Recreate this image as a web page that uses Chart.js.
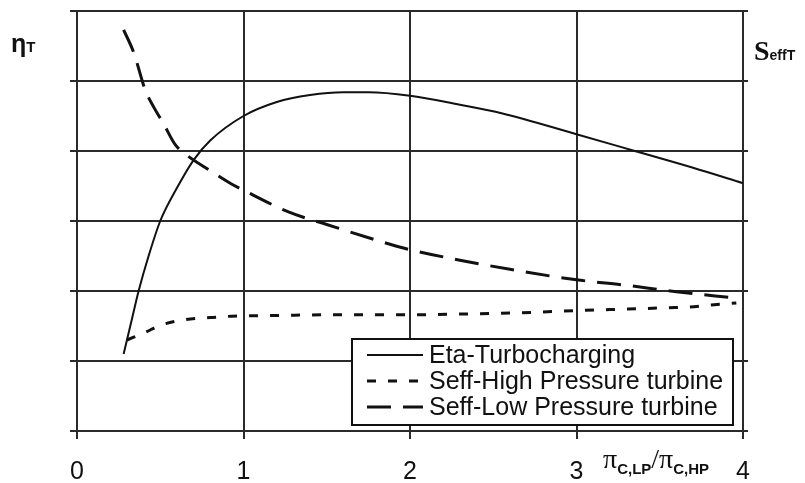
<!DOCTYPE html>
<html>
<head>
<meta charset="utf-8">
<script src="https://cdn.jsdelivr.net/npm/chart.js@4.4.1/dist/chart.umd.min.js"></script>
<style>
  html, body { margin: 0; padding: 0; background: #fff; }
  #wrap { position: relative; width: 805px; height: 483px; font-family: "Liberation Sans", Arial, sans-serif; color: #111; }
  #c { position: absolute; left: 0; top: 0; }
  .lbl { position: absolute; white-space: nowrap; line-height: 1; }
  .sub { font-weight: bold; font-size: 15px; font-family: "Liberation Sans", Arial, sans-serif; position: relative; top: 6px; }
</style>
</head>
<body>
<div id="wrap">
  <canvas id="c" width="805" height="483"></canvas>
  <div class="lbl" style="left:11px; top:31px; font-size:25px; font-weight:bold;">η<span style="font-size:15px;">T</span></div>
  <div class="lbl" style="left:754px; top:37px; font-size:28px; font-weight:bold; font-family:'Liberation Serif', serif;">S<span style="font-size:14px; font-family:'Liberation Sans', Arial, sans-serif;">effT</span></div>
  <div class="lbl" style="left:603px; top:445px; font-size:28px; font-family:'Liberation Serif', serif;">π<span class="sub">C,LP</span>/π<span class="sub">C,HP</span></div>
</div>
<script>
// Pressure ratio split (x) and efficiencies in grid units (y)
const etaX  = [0.28, 0.33, 0.37, 0.43, 0.5, 0.6, 0.7, 0.8, 1.0, 1.2, 1.4, 1.6, 1.75, 2.0, 2.3, 2.55, 3.0, 3.35, 3.7, 4.0];
const etaY  = [1.1, 1.6, 2.0, 2.5, 3.0, 3.47, 3.87, 4.15, 4.5, 4.7, 4.8, 4.84, 4.84, 4.79, 4.66, 4.54, 4.24, 4.0, 3.76, 3.54];

const highX = [0.3, 0.41, 0.5, 0.65, 0.8, 0.93, 1.2, 1.5, 2.0, 2.3, 2.67, 3.0, 3.28, 3.54, 3.68, 3.81, 3.96];
const highY = [1.3, 1.41, 1.51, 1.59, 1.62, 1.64, 1.65, 1.66, 1.66, 1.67, 1.69, 1.72, 1.74, 1.76, 1.77, 1.8, 1.83];

const lowX  = [0.28, 0.34, 0.41, 0.46, 0.52, 0.59, 0.66, 0.8, 0.92, 1.0, 1.27, 1.5, 1.92, 2.0, 2.3, 2.6, 3.0, 3.27, 3.6, 3.95];
const lowY  = [5.73, 5.41, 4.87, 4.63, 4.39, 4.09, 3.94, 3.72, 3.54, 3.44, 3.13, 2.95, 2.64, 2.59, 2.44, 2.31, 2.16, 2.09, 1.99, 1.9];

const seriesNames = ['Eta-Turbocharging', 'Seff-High Pressure turbine', 'Seff-Low Pressure turbine'];
const xTicks = [0, 1, 2, 3, 4];

const pts = (xs, ys) => xs.map((x, i) => ({ x: x, y: ys[i] }));
const INK = '#111';
const GRID = '#2a2a2a';

// Boxed legend inside the plot, bottom right
const boxLegend = {
  id: 'boxLegend',
  afterDatasetsDraw(chart) {
    const ctx = chart.ctx;
    const x0 = 352, y0 = 339, w = 381, h = 86;
    ctx.save();
    ctx.fillStyle = '#fff';
    ctx.fillRect(x0, y0, w, h);
    ctx.strokeStyle = INK;
    ctx.lineWidth = 2;
    ctx.strokeRect(x0, y0, w, h);
    const rows = [355, 381, 407];
    chart.data.datasets.forEach((ds, i) => {
      const y = rows[i];
      ctx.beginPath();
      ctx.setLineDash(ds.borderDash || []);
      ctx.lineWidth = ds.borderWidth;
      ctx.strokeStyle = ds.borderColor;
      ctx.moveTo(367, y);
      ctx.lineTo(423, y);
      ctx.stroke();
      ctx.setLineDash([]);
      ctx.fillStyle = INK;
      ctx.font = '25px "Liberation Sans", Arial, sans-serif';
      ctx.textBaseline = 'middle';
      ctx.textAlign = 'left';
      ctx.fillText(ds.label, 429, y + 1);
    });
    ctx.restore();
  }
};

const lineStyle = { borderColor: INK, cubicInterpolationMode: 'monotone', pointRadius: 0, fill: false };

new Chart(document.getElementById('c'), {
  type: 'line',
  data: {
    datasets: [
      Object.assign({ label: seriesNames[0], data: pts(etaX, etaY), borderWidth: 2 }, lineStyle),
      Object.assign({ label: seriesNames[1], data: pts(highX, highY), borderWidth: 3, borderDash: [9, 12] }, lineStyle),
      Object.assign({ label: seriesNames[2], data: pts(lowX, lowY), borderWidth: 3, borderDash: [24, 12] }, lineStyle)
    ]
  },
  options: {
    responsive: false,
    animation: false,
    layout: { padding: { top: 11, left: 0, right: 0, bottom: 0 } },
    plugins: { legend: { display: false }, tooltip: { enabled: false } },
    scales: {
      x: {
        type: 'linear', min: 0, max: 4,
        afterBuildTicks: s => { s.ticks = xTicks.map(v => ({ value: v })); },
        ticks: { color: INK, font: { size: 25, family: '"Liberation Sans", Arial, sans-serif' }, padding: 18, maxRotation: 0 },
        grid: { color: GRID, lineWidth: 2, tickLength: 8, tickColor: GRID },
        border: { color: GRID, width: 2 },
        afterFit: s => { s.height = 52; }
      },
      y: {
        position: 'left', min: 0, max: 6,
        ticks: { stepSize: 1, display: false },
        grid: { color: GRID, lineWidth: 2, tickLength: 7, tickColor: GRID },
        border: { color: GRID, width: 2 },
        afterFit: s => { s.width = 77; }
      },
      y2: {
        position: 'right', min: 0, max: 6,
        ticks: { stepSize: 1, display: false },
        grid: { drawOnChartArea: false, color: GRID, lineWidth: 2, tickLength: 5, tickColor: GRID },
        border: { color: GRID, width: 2 },
        afterFit: s => { s.width = 62; }
      }
    }
  },
  plugins: [boxLegend]
});
</script>
</body>
</html>
